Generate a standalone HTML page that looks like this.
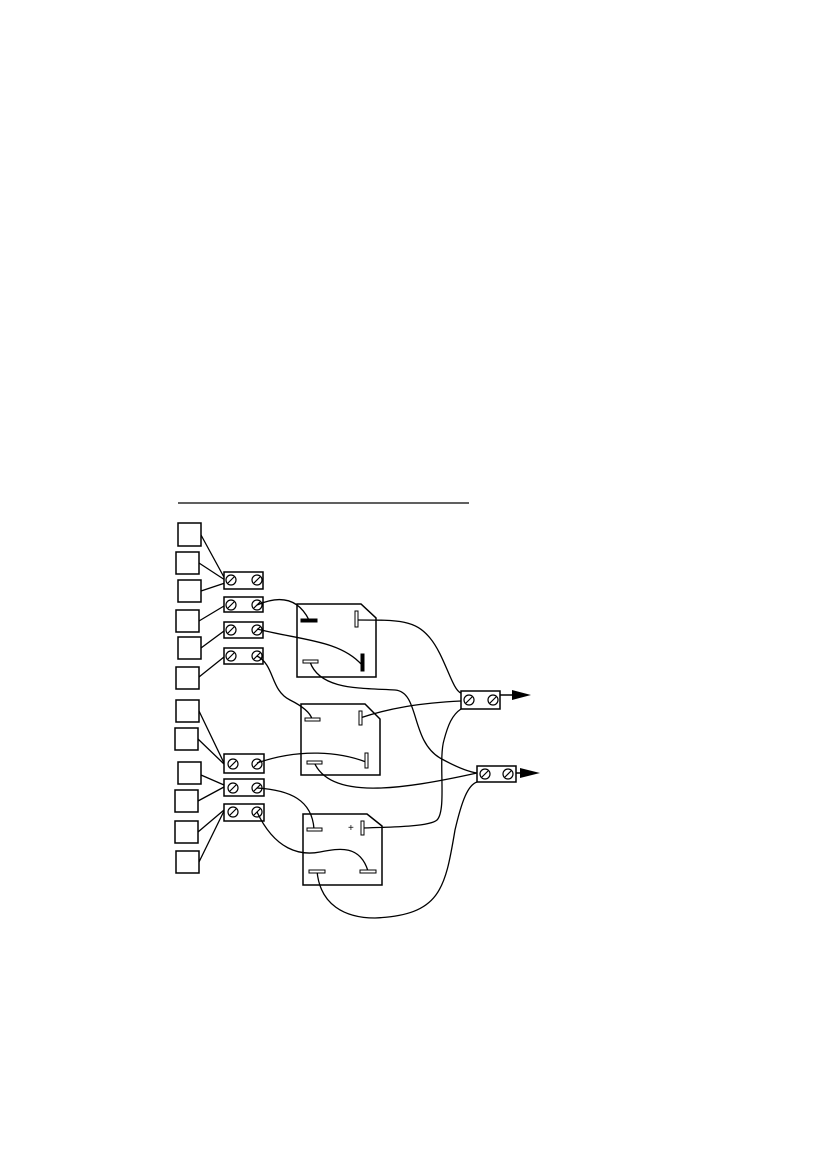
<!DOCTYPE html>
<html><head><meta charset="utf-8"><style>
html,body{margin:0;padding:0;background:#fff;}
svg{display:block;}
</style></head><body>
<svg width="826" height="1169" viewBox="0 0 826 1169" xmlns="http://www.w3.org/2000/svg">
<g fill="none" stroke="#000">
<line x1="178" y1="503" x2="469" y2="503" stroke-width="1.3"/>
<!-- left squares -->
<g stroke-width="1.5" fill="#fff">
<rect x="178" y="523" width="23" height="23"/>
<rect x="176" y="552" width="23" height="22"/>
<rect x="178" y="580" width="23" height="22"/>
<rect x="176" y="610" width="23" height="22"/>
<rect x="178" y="637" width="23" height="22"/>
<rect x="176" y="667" width="23" height="22"/>
<rect x="176" y="700" width="23" height="22"/>
<rect x="175" y="728" width="23" height="22"/>
<rect x="178" y="762" width="23" height="22"/>
<rect x="175" y="790" width="23" height="22"/>
<rect x="175" y="821" width="23" height="22"/>
<rect x="176" y="851" width="23" height="22"/>
</g>
<!-- square wires -->
<g stroke-width="1.3">
<line x1="201" y1="535" x2="225" y2="579"/>
<line x1="199" y1="563" x2="225" y2="580"/>
<line x1="201" y1="591" x2="225" y2="583"/>
<line x1="199" y1="621" x2="224" y2="606"/>
<line x1="201" y1="648" x2="224" y2="631"/>
<line x1="199" y1="677" x2="224" y2="657"/>
<line x1="199" y1="711" x2="224" y2="763"/>
<line x1="198" y1="739" x2="224" y2="764"/>
<line x1="201" y1="775" x2="224" y2="785"/>
<line x1="198" y1="801" x2="224" y2="787"/>
<line x1="198" y1="832" x2="224" y2="810"/>
<line x1="199" y1="862" x2="224" y2="811"/>
</g>
<!-- terminal blocks -->
<g stroke-width="1.5" fill="#fff">
<rect x="224" y="572" width="39" height="17"/>
<rect x="224" y="597" width="39" height="15"/>
<rect x="224" y="622" width="39" height="16"/>
<rect x="224" y="648" width="39" height="16"/>
<rect x="224" y="754" width="40" height="19"/>
<rect x="224" y="779" width="40" height="17"/>
<rect x="224" y="804" width="40" height="17"/>
<rect x="461" y="691" width="39" height="18"/>
<rect x="477" y="766" width="39" height="16"/>
</g>
<g stroke-width="1.2">
<circle cx="231" cy="580" r="5"/><circle cx="257" cy="580" r="5"/>
<circle cx="231" cy="605" r="5"/><circle cx="257" cy="605" r="5"/>
<circle cx="231" cy="630" r="5"/><circle cx="257" cy="630" r="5"/>
<circle cx="231" cy="656" r="5"/><circle cx="257" cy="656" r="5"/>
<circle cx="233" cy="764" r="5"/><circle cx="257" cy="764" r="5"/>
<circle cx="233" cy="788" r="5"/><circle cx="257" cy="788" r="5"/>
<circle cx="233" cy="812" r="5"/><circle cx="257" cy="812" r="5"/>
<circle cx="469" cy="700" r="5"/><circle cx="493" cy="700" r="5"/>
<circle cx="485" cy="774" r="5"/><circle cx="508" cy="774" r="5"/>
<path d="M228 583 L234 577 M254 583 L260 577 M228 608 L234 602 M254 608 L260 602 M228 633 L234 627 M254 633 L260 627 M228 659 L234 653 M254 659 L260 653 M230 767 L236 761 M254 767 L260 761 M230 791 L236 785 M254 791 L260 785 M230 815 L236 809 M254 815 L260 809 M466 703 L472 697 M490 703 L496 697 M482 777 L488 771 M505 777 L511 771"/>
</g>
<!-- arrows -->
<line x1="500" y1="695" x2="515" y2="695" stroke-width="1.5"/>
<polygon points="512,690 531,695 512,700" fill="#000" stroke="none"/>
<line x1="516" y1="773" x2="524" y2="773" stroke-width="1.5"/>
<polygon points="520,768 540,773 520,778" fill="#000" stroke="none"/>
<!-- relays -->
<g stroke-width="1.5" fill="#fff">
<path d="M297 604 H361 L376 618 V677 H297 Z"/>
<path d="M301 704 H365 L380 719 V775 H301 Z"/>
<path d="M303 814 H367 L382 826 V885 H303 Z"/>
</g>
<!-- wires -->
<g stroke-width="1.3">
<path d="M257 605 C280 595 298 598 309 620"/>
<path d="M257 629 C300 640 340 640 362 665"/>
<path d="M257 656 C275 665 270 690 290 700 C302 706 310 712 312 719"/>
<path d="M357 620 C400 620 415 620 430 638 C445 656 452 690 461 693"/>
<path d="M310 662 C320 690 360 688 395 690 C420 692 410 740 440 758 C458 768 470 772 477 773"/>
<path d="M360 718 C390 708 420 703 461 701"/>
<path d="M257 763 C300 748 340 752 366 762"/>
<path d="M314 762 C330 800 400 790 477 773"/>
<path d="M257 788 C290 790 312 800 314 829"/>
<path d="M257 812 C275 850 300 856 320 852 C340 848 360 845 368 871"/>
<path d="M363 828 C400 827 430 826 437 820 C447 810 438 760 444 740 C448 725 452 715 461 709"/>
<path d="M317 871 C320 905 345 918 375 918 C440 915 445 890 455 830 C462 800 468 785 477 782"/>
</g>
<!-- relay terminals -->
<g stroke-width="1">
<rect x="301" y="619" width="16" height="3" fill="#000"/>
<rect x="355" y="611" width="3" height="16" fill="#fff"/>
<rect x="361" y="654" width="3" height="17" fill="#000"/>
<rect x="303" y="660" width="15" height="3" fill="#fff"/>
<rect x="305" y="718" width="15" height="3" fill="#fff"/>
<rect x="359" y="711" width="3" height="14" fill="#fff"/>
<rect x="365" y="753" width="3" height="15" fill="#fff"/>
<rect x="307" y="761" width="15" height="3" fill="#fff"/>
<rect x="307" y="828" width="15" height="3" fill="#fff"/>
<rect x="361" y="821" width="3" height="14" fill="#fff"/>
<rect x="309" y="870" width="16" height="3" fill="#fff"/>
<rect x="360" y="870" width="16" height="3" fill="#fff"/>
</g>
</g>
<text x="348" y="831" font-family="Liberation Sans, sans-serif" font-size="10">+</text>
</svg>
</body></html>
